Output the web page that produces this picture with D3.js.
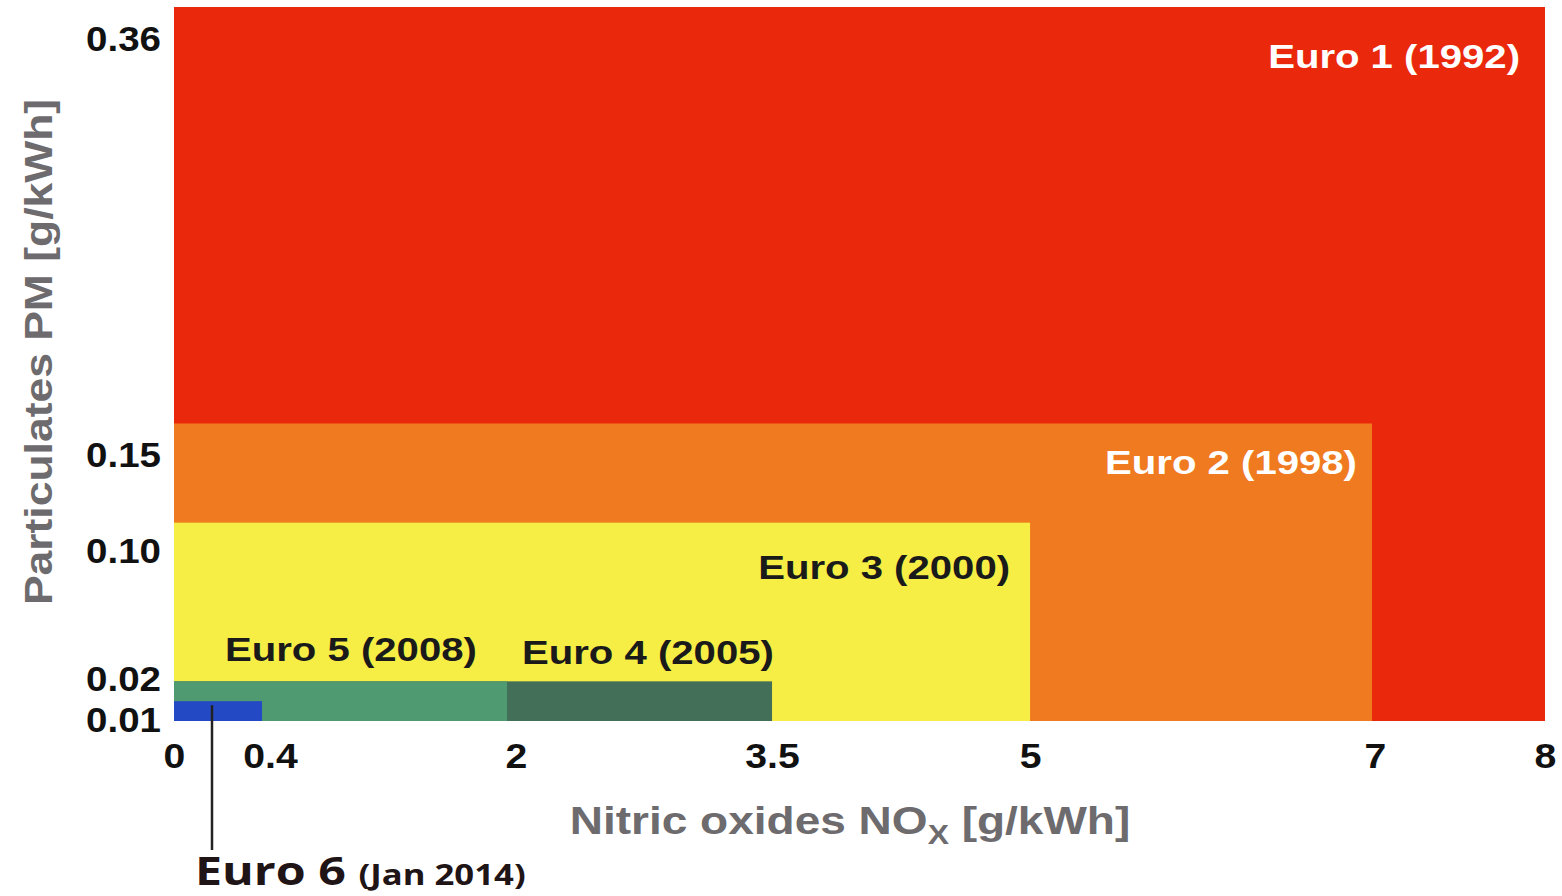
<!DOCTYPE html>
<html><head><meta charset="utf-8">
<script src="https://cdn.jsdelivr.net/npm/d3@7"></script>
<style>
html,body{margin:0;padding:0;background:#fff;}
svg{display:block;}
</style></head>
<body>
<svg id="chart" width="1562" height="896"></svg>
<script>
// ---- data ----
const standards = ["Euro 1", "Euro 2", "Euro 3", "Euro 4", "Euro 5", "Euro 6"];
const years = ["1992", "1998", "2000", "2005", "2008", "Jan 2014"];
const noxLimits = [8, 7, 5, 3.5, 2, 0.4];          // g/kWh
const pmLimits = [0.36, 0.15, 0.10, 0.02, 0.02, 0.01]; // g/kWh
const xTickValues = [0, 0.4, 2, 3.5, 5, 7, 8];
const xTickLabels = ["0", "0.4", "2", "3.5", "5", "7", "8"];
const yTickValues = [0.36, 0.15, 0.10, 0.02, 0.01];
const yTickLabels = ["0.36", "0.15", "0.10", "0.02", "0.01"];

// ---- style ----
const colors = ["#ea280c", "#f07a20", "#f6ee45", "#436f58", "#4f9a70", "#2449c4"];
const labelColors = ["#fff", "#fff", "#1a1a1a", "#1a1a1a", "#1a1a1a", "#1a1a1a"];
const font = "'Liberation Sans', Arial, sans-serif";
const SX = 1.18; // the artwork is horizontally stretched

const svg = d3.select("#chart");
const mLeft = 174, mRight = 1545, mTop = 7, mBottom = 721;

// the original artwork is drawn with a slightly uneven x axis: piecewise linear scale
const xFrac = [0, 0.0642, 0.2429, 0.4362, 0.6244, 0.8738, 1];
const x = d3.scaleLinear()
  .domain(xTickValues)
  .range(xFrac.map(f => mLeft + f * (mRight - mLeft)));
const y = d3.scaleLinear().domain([0, 0.36]).range([mBottom, mTop]);

const rows = standards.map((s, i) => ({name: s, year: years[i], nox: noxLimits[i], pm: pmLimits[i], color: colors[i], lc: labelColors[i]}));

svg.append("g").selectAll("rect").data(rows).join("rect")
  .attr("x", x(0))
  .attr("y", d => y(d.pm))
  .attr("width", d => x(d.nox) - x(0))
  .attr("height", d => y(0) - y(d.pm))
  .attr("fill", d => d.color);

function addText(parent, X, Y, str, o) {
  return parent.append("text")
    .attr("transform", `translate(${X},${Y}) scale(${o.sx || SX},1)`)
    .attr("text-anchor", o.anchor || "start")
    .attr("font-family", o.family || font)
    .attr("font-weight", o.weight || "bold")
    .attr("font-size", o.size)
    .attr("fill", o.fill || "#111")
    .text(str);
}

// ---- labels for standards ----
const labelPos = {
  "Euro 1": {anchor: "end", dx: -25, dy: 61},
  "Euro 2": {anchor: "end", dx: -15, dy: 50},
  "Euro 3": {anchor: "end", dx: -20, dy: 56},
  "Euro 4": {anchor: "start", dx: 15, dy: -17},
  "Euro 5": {anchor: "start", dx: 51, dy: -20}
};
rows.filter(d => labelPos[d.name]).forEach(d => {
  const p = labelPos[d.name];
  const bx = p.anchor === "end" ? x(d.nox) : (d.name === "Euro 4" ? x(2) : x(0));
  addText(svg, bx + p.dx, y(d.pm) + p.dy, `${d.name} (${d.year})`, {anchor: p.anchor, size: 34, fill: d.lc});
});

// Euro 6 callout
const e6 = rows[5];
svg.append("line")
  .attr("x1", x(0) + 38).attr("x2", x(0) + 38)
  .attr("y1", y(e6.pm) + 4).attr("y2", 850)
  .attr("stroke", "#222").attr("stroke-width", 2.5);
const t6 = svg.append("text")
  .attr("transform", `translate(195,885) scale(1.24,1)`)
  .attr("font-family", "'Open Sans', sans-serif")
  .attr("font-weight", "bold")
  .attr("fill", "#1f1416");
t6.append("tspan").attr("font-size", 39).text(e6.name + " ");
t6.append("tspan").attr("font-size", 28).text(`(${e6.year})`);

// ---- axes ----
const xLabelDx = {"0.4": 8, "2": 9, "7": 3};
const xAxis = d3.axisBottom(x).tickValues(xTickValues).tickFormat((d, i) => xTickLabels[i]).tickSize(0).tickPadding(0);
const gx = svg.append("g").attr("transform", `translate(0,${mBottom})`).call(xAxis);
gx.select(".domain").remove();
gx.selectAll("text")
  .attr("font-family", font).attr("font-weight", "bold").attr("font-size", 35).attr("fill", "#111")
  .attr("x", 0).attr("y", 0).attr("dy", 0)
  .attr("transform", (d, i) => `translate(${xLabelDx[xTickLabels[i]] || 0},47) scale(1.12,1)`);

const yLabelDy = {"0.36": 43, "0.15": 43, "0.10": 40, "0.02": 9, "0.01": 30};
const yAxis = d3.axisLeft(y).tickValues(yTickValues).tickFormat((d, i) => yTickLabels[i]).tickSize(0).tickPadding(0);
const gy = svg.append("g").attr("transform", `translate(${mLeft - 13},0)`).call(yAxis);
gy.select(".domain").remove();
gy.selectAll("text")
  .attr("font-family", font).attr("font-weight", "bold").attr("font-size", 35).attr("fill", "#111")
  .attr("x", 0).attr("y", 0).attr("dy", 0)
  .attr("transform", (d, i) => `translate(0,${yLabelDy[yTickLabels[i]]}) scale(1.1,1)`);

// axis titles
const xt = svg.append("text")
  .attr("transform", `translate(850,834) scale(1.18,1)`)
  .attr("text-anchor", "middle")
  .attr("font-family", font).attr("font-size", 39).attr("font-weight", "bold")
  .attr("fill", "#6d6b6e");
xt.append("tspan").text("Nitric oxides NO");
xt.append("tspan").attr("font-size", 27).attr("dy", 10).text("X");
xt.append("tspan").attr("dy", -10).text(" [g/kWh]");

svg.append("text")
  .attr("transform", `translate(52,352) rotate(-90) scale(1.14,1)`)
  .attr("text-anchor", "middle")
  .attr("font-family", font).attr("font-size", 39).attr("font-weight", "bold")
  .attr("fill", "#6d6b6e")
  .text("Particulates PM [g/kWh]");
</script>
</body></html>
